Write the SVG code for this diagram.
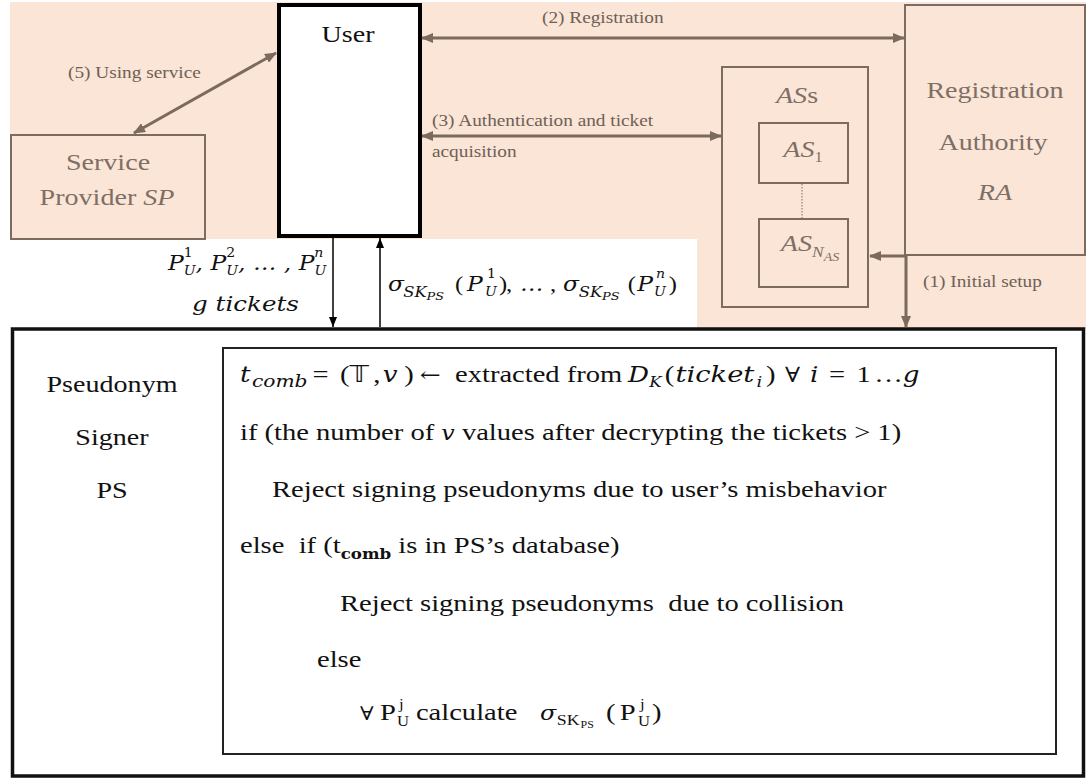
<svg xmlns="http://www.w3.org/2000/svg" width="1086" height="779" viewBox="0 0 1086 779">
<style>
.lbl{font-family:"Liberation Serif","Times New Roman",serif;font-size:16.5px;fill:#6e6056;}
.big{font-family:"Liberation Serif","Times New Roman",serif;font-size:24px;}
.brn{fill:#7e6f66;}
.blk{fill:#111;}
.it{font-style:italic;}
.mi{font-family:"DejaVu Serif",serif;font-style:italic;}
.dv{font-family:"DejaVu Serif",serif;}
.box{fill:#fbe5d6;stroke:#7c6c60;stroke-width:2;}
.conn{fill:none;stroke:#7b6a5e;stroke-width:3;}
.thin{fill:none;stroke:#000;stroke-width:1.5;}
</style>
<defs>
<marker id="ab" markerUnits="userSpaceOnUse" viewBox="0 0 12 10" markerWidth="12" markerHeight="10" refX="11" refY="5" orient="auto-start-reverse"><path d="M0,0 L12,5 L0,10 z" fill="#7b6a5e"/></marker>
<marker id="ak" markerUnits="userSpaceOnUse" viewBox="0 0 10 8" markerWidth="10" markerHeight="8" refX="10" refY="4" orient="auto-start-reverse"><path d="M0,0 L10,4 L0,8 z" fill="#000"/></marker>
</defs>
<rect width="1086" height="779" fill="#fff"/>
<path d="M10,2 H1086 V329 H697 V239 H10 Z" fill="#fbe5d6"/>

<g id="node-sp">
<rect class="box" x="11" y="135" width="194" height="104"/>
<text class="big brn" text-anchor="middle" transform="translate(108 170) scale(1.17 1)">Service</text>
<text class="big brn" text-anchor="middle" transform="translate(107 205) scale(1.17 1)">Provider <tspan class="it">SP</tspan></text>
</g>

<g id="node-user">
<rect x="279" y="5" width="141" height="231" fill="#fff" stroke="#000" stroke-width="4"/>
<text class="big blk" font-size="23" text-anchor="middle" transform="translate(348 42) scale(1.17 1)">User</text>
</g>

<g id="node-ra">
<rect class="box" x="905" y="5" width="180" height="250"/>
<text class="big brn" text-anchor="middle" transform="translate(995 98) scale(1.17 1)">Registration</text>
<text class="big brn" text-anchor="middle" transform="translate(993 150) scale(1.17 1)">Authority</text>
<text class="big brn it" text-anchor="middle" transform="translate(995 200) scale(1.17 1)">RA</text>
</g>

<g id="node-as">
<rect class="box" x="722" y="67" width="146" height="240"/>
<text class="big brn" font-size="21" text-anchor="middle" transform="translate(797 103) scale(1.17 1)"><tspan class="it">AS</tspan>s</text>
<g id="node-as1">
<rect class="box" x="759" y="123" width="89" height="60"/>
<text class="big brn" font-size="21" text-anchor="middle" transform="translate(803 157) scale(1.17 1)"><tspan class="it">AS</tspan><tspan font-size="14" dy="5">1</tspan></text>
</g>
<line x1="802" y1="184" x2="802" y2="218" stroke="#7c6c60" stroke-width="1" stroke-dasharray="1.5 1.5"/>
<g id="node-asn">
<rect class="box" x="759" y="219" width="89" height="68"/>
<text class="big brn it" font-size="21" text-anchor="middle" transform="translate(810 251) scale(1.17 1)">AS<tspan font-size="15" dy="6">N</tspan><tspan font-size="12" dy="4">AS</tspan></text>
</g>
</g>

<g id="node-ps">
<rect x="12.5" y="329" width="1071" height="447" fill="#fff" stroke="#111" stroke-width="3.5"/>
<text class="big blk" text-anchor="middle" transform="translate(112 392) scale(1.17 1)">Pseudonym</text>
<text class="big blk" text-anchor="middle" transform="translate(112 445) scale(1.17 1)">Signer</text>
<text class="big blk" text-anchor="middle" transform="translate(112 498) scale(1.17 1)">PS</text>
<g id="node-algo">
<rect x="223" y="348" width="833" height="406" fill="#fff" stroke="#222" stroke-width="2"/>
<text class="big blk" transform="translate(240 382) scale(1.19 1)"><tspan class="mi" font-size="22" x="0">t</tspan><tspan class="mi" font-size="17" x="10" dy="5">comb</tspan><tspan x="61" dy="-5">=</tspan><tspan x="84">(</tspan><tspan font-family="DejaVu Sans" font-size="23" x="92">𝕋</tspan><tspan x="112">,</tspan><tspan class="mi" font-size="22" x="120">v</tspan><tspan x="138">)</tspan><tspan class="dv" font-size="21" x="151">←</tspan><tspan x="180.7">extracted from</tspan><tspan class="mi" font-size="22" x="326">D</tspan><tspan class="mi" font-size="14" x="344" dy="5">K</tspan><tspan x="357" dy="-5">(</tspan><tspan class="mi" font-size="23" x="366">ticket</tspan><tspan class="mi" font-size="15" x="434" dy="5">i</tspan><tspan x="442" dy="-5">)</tspan><tspan class="dv" font-size="21" x="458">∀</tspan><tspan class="mi" font-size="22" x="479">i</tspan><tspan x="495">=</tspan><tspan x="518">1</tspan><tspan x="533">…</tspan><tspan class="mi" font-size="22" x="557">g</tspan></text>
<text class="big blk" transform="translate(240 440) scale(1.19 1)">if (the number of <tspan class="mi" font-size="20">v</tspan> values after decrypting the tickets &gt; 1)</text>
<text class="big blk" transform="translate(272 497) scale(1.19 1)">Reject signing pseudonyms due to user’s misbehavior</text>
<text class="big blk" xml:space="preserve" transform="translate(240 553) scale(1.19 1)">else  if (t<tspan class="dv" font-weight="bold" font-size="14" dy="6">comb</tspan><tspan dy="-6"> is in PS’s database)</tspan></text>
<text class="big blk" xml:space="preserve" transform="translate(340 611) scale(1.19 1)">Reject signing pseudonyms  due to collision</text>
<text class="big blk" transform="translate(317 667) scale(1.19 1)">else</text>
<text class="big blk" transform="translate(358 720) scale(1.19 1)"><tspan class="dv" font-size="19" x="1.7">∀</tspan><tspan x="18.5">P</tspan><tspan font-size="14" x="34.5" dy="-11">j</tspan><tspan font-size="14" x="32.8" dy="17">U</tspan><tspan x="48.7" dy="-6">calculate</tspan><tspan class="mi" font-size="20" x="153">σ</tspan><tspan font-size="15" x="167" dy="5">SK</tspan><tspan font-size="10" x="187" dy="3">PS</tspan><tspan x="208.4" dy="-8">(</tspan><tspan x="220">P</tspan><tspan font-size="14" x="237" dy="-11">j</tspan><tspan font-size="14" x="235.3" dy="17">U</tspan><tspan x="247" dy="-6">)</tspan></text>
</g>
</g>

<g id="connectors">
<line class="conn" x1="134" y1="133" x2="276" y2="53" marker-start="url(#ab)" marker-end="url(#ab)"/>
<line class="conn" x1="422" y1="38" x2="904" y2="38" marker-start="url(#ab)" marker-end="url(#ab)"/>
<line class="conn" x1="422" y1="136" x2="721" y2="136" marker-start="url(#ab)" marker-end="url(#ab)"/>
<path class="conn" d="M870,256 H906 V327" marker-start="url(#ab)" marker-end="url(#ab)"/>
<line class="thin" x1="333" y1="238" x2="333" y2="327" marker-end="url(#ak)"/>
<line class="thin" x1="380" y1="327" x2="380" y2="238" marker-end="url(#ak)"/>
<text class="lbl" transform="translate(68 78) scale(1.17 1)">(5) Using service</text>
<text class="lbl" transform="translate(542 23) scale(1.17 1)">(2) Registration</text>
<text class="lbl" transform="translate(432 126) scale(1.17 1)">(3) Authentication and ticket</text>
<text class="lbl" transform="translate(432 157) scale(1.17 1)">acquisition</text>
<text class="lbl" transform="translate(923 287) scale(1.17 1)">(1) Initial setup</text>
<text class="big blk" xml:space="preserve" transform="translate(168 270) scale(1.17 1)"><tspan class="mi" font-size="20">P</tspan><tspan class="dv" font-size="12" dy="-13">1</tspan><tspan class="mi" font-size="12" dx="-7.6" dy="18">U</tspan><tspan class="mi" font-size="20" dy="-5">, </tspan><tspan class="mi" font-size="20">P</tspan><tspan class="dv" font-size="12" dy="-13">2</tspan><tspan class="mi" font-size="12" dx="-7.6" dy="18">U</tspan><tspan class="mi" font-size="20" dy="-5">, … , </tspan><tspan class="mi" font-size="20">P</tspan><tspan class="mi" font-size="12" dy="-13">n</tspan><tspan class="mi" font-size="12" dx="-7.6" dy="18">U</tspan></text>
<text class="mi blk" font-size="21" transform="translate(192 311) scale(1.17 1)">g tickets</text>
<text class="big blk" transform="translate(388 291) scale(1.17 1)"><tspan class="mi" font-size="20" x="0">σ</tspan><tspan class="mi" font-size="14" x="13" dy="6">SK</tspan><tspan class="mi" font-size="11" x="33" dy="3">PS</tspan><tspan font-size="21" x="57.3" dy="-9">(</tspan><tspan class="mi" font-size="20" x="67.5">P</tspan><tspan class="dv" font-size="12" x="84.6" dy="-13">1</tspan><tspan class="mi" font-size="12" x="82.9" dy="18">U</tspan><tspan font-size="21" x="94.9" dy="-5">)</tspan><tspan font-size="21" x="100.9">,</tspan><tspan class="mi" font-size="20" x="112.8">…</tspan><tspan font-size="21" x="138.5">,</tspan><tspan class="mi" font-size="20" x="149.6">σ</tspan><tspan class="mi" font-size="14" x="163" dy="6">SK</tspan><tspan class="mi" font-size="11" x="183" dy="3">PS</tspan><tspan font-size="21" x="205" dy="-9">(</tspan><tspan class="mi" font-size="20" x="213">P</tspan><tspan class="mi" font-size="12" x="229" dy="-13">n</tspan><tspan class="mi" font-size="12" x="227.3" dy="18">U</tspan><tspan font-size="21" x="240" dy="-5">)</tspan></text>
</g>
</svg>
